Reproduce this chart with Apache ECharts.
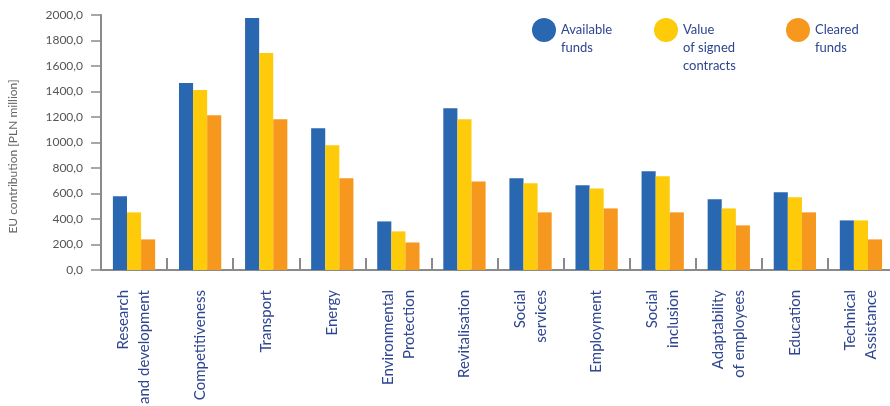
<!DOCTYPE html>
<html>
<head>
<meta charset="utf-8">
<script src="https://cdn.jsdelivr.net/npm/echarts@6/dist/echarts.min.js"></script>
<style>
html,body{margin:0;padding:0;background:#fff;}
#chart{width:890px;height:406px;}
</style>
</head>
<body>
<div id="chart"></div>
<script>
const categories = [
  "Research\nand development", "Competitiveness", "Transport", "Energy",
  "Environmental\nProtection", "Revitalisation", "Social\nservices", "Employment",
  "Social\ninclusion", "Adaptability\nof employees", "Education", "Technical\nAssistance"
];
const availableFunds = [578, 1466, 1976, 1112, 381, 1269, 719, 664, 774, 554, 609, 389];
const signedContracts = [452, 1411, 1701, 978, 303, 1183, 680, 640, 735, 483, 570, 389];
const clearedFunds = [240, 1214, 1183, 719, 216, 695, 452, 483, 452, 350, 452, 240];
const seriesNames = ["Available funds", "Value of signed contracts", "Cleared funds"];
const legendLabels = ["\nAvailable\nfunds", "\n\nValue\nof signed\ncontracts", "\nCleared\nfunds"];
const colors = ["#2A67B1", "#FDCB0A", "#F7981E"];
const yTicks = { min: 0, max: 2000, interval: 200 };

const chart = echarts.init(document.getElementById('chart'));
const fontFam = 'Lato, "Noto Sans", sans-serif';
const textNavy = '#2E4590';

function makeLegend(i, left, top) {
  return {
    data: [seriesNames[i]],
    left: left, top: top, padding: 0,
    icon: 'circle', itemWidth: 24, itemHeight: 24,
    selectedMode: false,
    formatter: () => legendLabels[i],
    textStyle: { color: textNavy, fontSize: 13, lineHeight: 18, fontFamily: fontFam }
  };
}

chart.setOption({
  animation: false,
  color: colors,
  legend: [makeLegend(0, 532, 3), makeLegend(1, 654, -15), makeLegend(2, 786, 3)],
  grid: { left: 101, top: 15, width: 793, height: 255, outerBoundsMode: 'none', containLabel: false },
  xAxis: {
    type: 'category',
    data: categories,
    axisLine: { lineStyle: { color: '#8a8a8a', width: 2 } },
    axisTick: { show: true, inside: true, length: 12, lineStyle: { color: '#8a8a8a', width: 2 } },
    axisLabel: {
      interval: 0, rotate: 90, margin: 20,
      color: textNavy, fontSize: 15, lineHeight: 21, fontFamily: fontFam
    }
  },
  yAxis: {
    type: 'value',
    min: yTicks.min, max: yTicks.max, interval: yTicks.interval,
    name: 'EU contribution [PLN million]',
    nameLocation: 'middle', nameGap: 82,
    nameTextStyle: { color: '#666', fontSize: 12, fontFamily: fontFam, padding: [0, 28, 0, 0] },
    axisLine: { show: true, lineStyle: { color: '#8a8a8a', width: 2 } },
    axisTick: { show: true, length: 10, lineStyle: { color: '#8a8a8a', width: 1.5 } },
    splitLine: { show: false },
    axisLabel: {
      margin: 18, color: '#555', fontSize: 12, fontFamily: fontFam,
      formatter: v => v.toFixed(1).replace('.', ',')
    }
  },
  series: [
    { name: seriesNames[0], type: 'bar', data: availableFunds, barGap: 0, barCategoryGap: '36%' },
    { name: seriesNames[1], type: 'bar', data: signedContracts, barGap: 0, barCategoryGap: '36%' },
    { name: seriesNames[2], type: 'bar', data: clearedFunds, barGap: 0, barCategoryGap: '36%' }
  ]
});
</script>
</body>
</html>
